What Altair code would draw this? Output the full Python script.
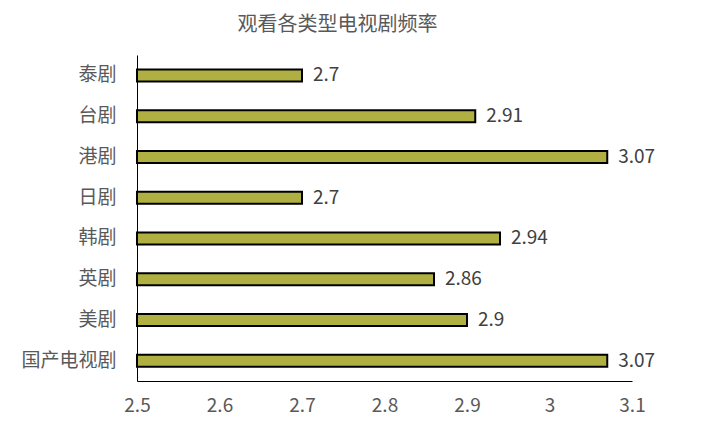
import altair as alt
import pandas as pd

categories = ["泰剧", "台剧", "港剧", "日剧", "韩剧", "英剧", "美剧", "国产电视剧"]
values = [2.7, 2.91, 3.07, 2.7, 2.94, 2.86, 2.9, 3.07]
x_ticks = [2.5, 2.6, 2.7, 2.8, 2.9, 3.0, 3.1]
x_base = 2.5

df = pd.DataFrame({"cat": categories, "val": values})
FONT = "Noto Sans CJK SC"

y_enc = alt.Y("cat:N", sort=categories, title=None,
              scale=alt.Scale(paddingInner=0.66, paddingOuter=0.33),
              axis=alt.Axis(domainColor="black", domainWidth=1, ticks=False,
                            labelPadding=21, labelFontSize=19, labelColor="#595959",
                            labelFont=FONT, grid=False))
x_enc = alt.X("val:Q", title=None,
              scale=alt.Scale(domain=[2.5, 3.1], nice=False, zero=False),
              axis=alt.Axis(values=x_ticks, domainColor="black", domainWidth=1,
                            ticks=False, grid=False, labelPadding=15, labelFlush=False,
                            labelFontSize=19, labelColor="#595959", labelFont=FONT,
                            labelExpr="datum.value == 3 ? '3' : format(datum.value, '.1f')"))

bars = alt.Chart(df).mark_bar(size=12, color="#b0b042", stroke="black",
                              strokeWidth=2).encode(
    x=x_enc, x2=alt.datum(x_base), y=y_enc)

labels = alt.Chart(df).mark_text(align="left", baseline="middle", dx=11,
                                 fontSize=19, color="#404040", font=FONT).encode(
    x="val:Q", y=alt.Y("cat:N", sort=categories), text=alt.Text("val:Q"))

chart = alt.layer(bars, labels).properties(
    width=495, height=326,
    autosize=alt.AutoSizeParams(type="none"),
    padding={"left": 129, "top": 47, "right": 66, "bottom": 40},
    title=alt.TitleParams("观看各类型电视剧频率", font=FONT, fontSize=20,
                          fontWeight="normal", color="#595959", anchor="middle",
                          frame="group", dx=-47, offset=20),
).configure_view(stroke=None)

chart.save("out.html", embed_options={"renderer": "svg", "actions": False})
